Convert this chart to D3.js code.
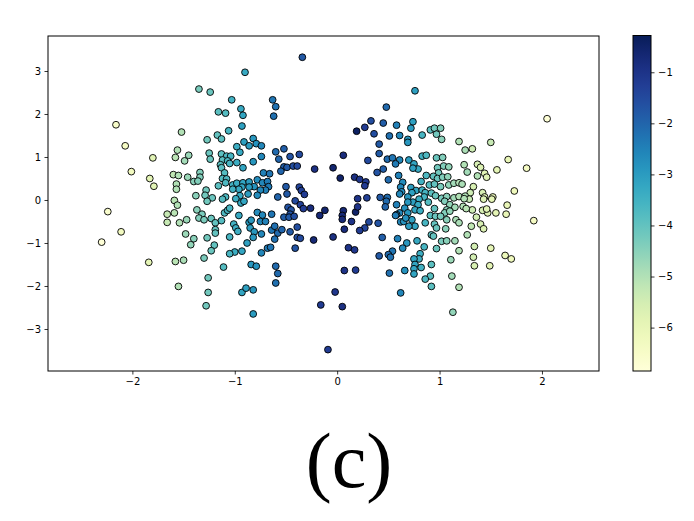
<!DOCTYPE html>
<html>
<head>
<meta charset="utf-8">
<script src="https://cdn.jsdelivr.net/npm/d3@7"></script>
<style>
  body { margin: 0; background: #fff; }
  svg { display: block; }
</style>
</head>
<body>
<svg width="694" height="521"></svg>
<script>
// point positions (x, y) and colour values
const xs = [
  -2.16,-2.07,-1.80,-2.01,-1.83,-1.79,-1.52,-1.56,-1.58,-1.49,-1.45,-1.60,-1.55,-1.46,-1.57,-1.57,-1.59,
  -2.24,-2.11,-2.30,-1.84,-1.58,-1.50,-1.55,-1.56,-1.66,-1.59,-1.66,-1.54,-1.47,-1.48,-1.43,
  -0.90,-1.35,-1.24,-1.03,-0.63,-0.60,-0.94,-0.92,-0.62,-1.16,-1.09,-0.93,-1.06,-1.27,-1.17,-1.13,-0.91,-0.82,
  -0.86,-0.79,-0.74,-0.98,-0.60,-0.57,-0.74,-0.82,-0.95,-1.25,-1.13,-1.08,-1.04,-1.24,-1.12,-1.07,-1.14,-1.05,
  -0.98,-1.13,-0.92,-0.72,-0.66,-1.10,-1.12,-1.08,-1.34,-1.34,-1.40,-1.36,-1.16,-1.09,-1.02,-0.98,-0.92,-0.86,
  -0.78,-0.73,-0.68,-0.67,-0.70,-0.75,-0.81,-0.86,-0.93,-0.96,-1.02,-1.28,-1.29,-1.38,-1.09,-0.95,-0.87,-0.78,
  -0.58,-1.22,-0.99,
  -1.27,-1.12,-0.94,-0.91,-1.37,-1.32,-1.35,-1.30,-1.23,-1.19,-1.13,-1.10,-1.07,-1.05,-0.96,-1.19,-1.19,-1.40,
  -1.27,-1.20,-1.23,-1.30,-1.05,-1.01,-0.99,-0.97,-0.78,-0.73,-0.64,-0.75,-0.70,-0.86,-0.84,-0.85,-0.81,-0.82,
  -0.74,-0.88,-0.93,-1.00,-1.05,-0.64,-0.61,-0.58,-0.61,-0.74,-0.68,-0.65,-1.11,-0.84,-0.79,-0.60,-0.58,-0.60,
  -1.26,-1.26,-1.28,-0.93,-0.89,-0.82,-0.82,
  -0.34,0.19,0.27,0.33,-0.52,-0.46,-0.37,0.06,0.30,-0.52,-0.49,-0.43,-0.39,-0.55,-0.22,-0.04,0.03,0.17,0.22,
  0.28,0.27,-0.50,-0.49,-0.37,-0.35,-0.32,-0.41,0.20,0.29,
  -0.36,-0.33,-0.26,-0.48,-0.45,-0.46,-0.52,-0.47,-0.42,-0.17,-0.12,0.06,0.05,0.05,0.18,0.20,0.14,0.31,0.27,
  0.22,0.07,-0.54,-0.46,-0.39,-0.39,-0.36,-0.23,-0.04,-0.41,0.11,0.17,0.07,0.18,-0.02,-0.16,0.05,-0.09,
  0.76,0.48,0.45,0.58,0.74,0.72,0.91,0.95,1.01,0.97,1.02,1.19,0.83,0.36,0.51,0.61,0.69,0.69,0.41,0.41,
  0.49,0.54,0.61,0.57,0.70,0.75,0.83,0.87,0.97,1.03,0.79,0.74,0.45,0.39,0.98,1.04,1.09,0.99,0.60,0.50,
  0.87,0.94,0.98,1.03,1.08,0.82,0.90,0.95,1.01,1.09,1.14,1.19,0.64,0.62,0.63,0.61,0.72,0.77,0.83,0.73,
  0.86,0.92,0.96,0.85,0.69,0.80,0.42,0.49,1.02,1.07,1.14,1.19,
  2.05,1.50,1.25,1.32,1.67,1.85,1.24,1.27,1.37,1.40,1.37,1.44,1.46,1.56,1.73,1.22,1.33,1.30,1.25,1.29,
  1.42,1.44,1.52,
  0.48,0.58,0.61,0.58,0.66,0.69,0.74,0.79,0.76,0.81,0.89,0.95,1.05,1.10,1.15,1.07,1.05,1.10,0.91,0.96,
  1.01,1.07,1.16,0.86,0.95,0.97,1.06,0.92,0.94,1.02,1.07,1.15,1.19,0.97,0.85,1.11,1.12,1.19,1.13,0.92,
  0.91,0.92,0.86,0.81,0.80,0.75,0.76,0.82,0.75,0.75,0.66,0.68,0.64,0.78,0.59,0.44,0.54,0.50,0.52,0.41,
  0.51,0.62,0.40,0.62,0.65,0.73,0.76,0.70,0.67,0.57,0.47,0.69,
  1.92,1.66,1.65,1.55,1.47,1.42,1.46,1.32,1.24,1.43,1.51,1.23,1.26,1.19,1.36,1.40,1.43,1.31,1.27,1.34,
  1.50,1.33,1.34,1.49,1.64,1.70
];
const ys = [
  1.75,1.26,0.98,0.66,0.50,0.32,1.58,1.16,0.99,0.91,1.04,0.59,0.57,0.53,0.37,0.25,-0.01,
  -0.27,-0.74,-0.98,-1.45,-1.43,-1.40,-2.01,-0.12,-0.33,-0.30,-0.52,-0.53,-0.46,-0.79,-1.04,
  2.97,2.58,2.51,2.33,2.33,2.17,2.12,1.97,1.95,2.05,2.02,1.72,1.61,1.40,1.51,1.42,1.35,1.43,
  1.26,1.31,1.26,1.24,1.12,0.95,1.01,0.89,1.11,1.09,1.07,1.02,1.02,0.95,0.93,0.91,0.82,0.85,
  0.87,0.75,0.75,0.63,0.61,0.63,0.50,0.49,0.64,0.53,0.43,0.44,0.33,0.40,0.35,0.39,0.40,0.42,
  0.47,0.40,0.43,0.31,0.23,0.23,0.31,0.30,0.30,0.25,0.25,0.23,0.11,0.10,0.07,0.10,0.14,0.11,
  0.07,0.05,0.03,
  -0.03,0.02,-0.07,-0.03,-0.23,-0.33,-0.42,-0.46,-0.43,-0.53,-0.48,-0.30,-0.24,-0.19,-0.36,-0.69,-0.77,-0.90,
  -0.88,-1.05,-1.18,-1.35,-0.86,-0.56,-0.65,-0.73,-0.29,-0.35,-0.33,-0.50,-0.50,-0.52,-0.47,-0.65,-0.74,-0.87,
  -0.79,-1.00,-1.19,-1.21,-1.25,-0.70,-0.61,-0.77,-0.91,-1.23,-1.12,-1.10,-1.56,-1.50,-1.54,-1.54,-1.71,-1.93,
  -1.81,-2.15,-2.46,-2.15,-2.05,-2.09,-2.65,
  3.32,1.60,1.69,1.84,1.19,1.01,1.06,1.04,0.92,0.77,0.76,0.79,0.79,0.67,0.72,0.75,0.51,0.53,0.48,
  0.42,0.33,0.31,0.14,0.30,0.22,0.13,-0.02,0.03,0.05,
  -0.11,-0.20,-0.19,-0.17,-0.23,-0.33,-0.40,-0.40,-0.38,-0.36,-0.24,-0.25,-0.36,-0.45,-0.28,-0.16,-0.50,-0.51,-0.65,
  -0.71,-0.68,-0.69,-0.74,-0.63,-0.87,-0.89,-0.93,-0.86,-1.12,-1.11,-1.16,-1.64,-1.63,-2.14,-2.44,-2.48,-3.48,
  2.54,2.16,1.79,1.74,1.82,1.67,1.63,1.67,1.67,1.53,1.41,1.36,1.51,1.54,1.49,1.50,1.41,1.34,1.30,1.08,
  0.95,0.98,0.93,0.84,0.93,0.84,1.02,1.04,0.98,0.99,0.72,0.74,0.72,0.64,0.75,0.79,0.77,0.63,0.57,0.47,
  0.57,0.55,0.50,0.53,0.54,0.43,0.35,0.37,0.31,0.35,0.39,0.40,0.41,0.30,0.19,0.14,0.29,0.22,0.23,0.17,
  0.17,0.16,0.10,0.07,0.07,0.02,0.06,0.06,0.04,0.08,0.05,0.08,
  1.89,1.34,1.16,1.19,0.94,0.74,0.82,0.65,0.83,0.76,0.56,0.62,0.53,0.70,0.21,0.37,0.31,0.17,0.09,0.02,
  0.17,0.07,0.07,
  -0.03,-0.11,-0.30,-0.34,-0.19,-0.30,-0.05,-0.11,-0.23,-0.25,-0.05,-0.20,-0.03,-0.11,-0.17,-0.23,-0.30,-0.26,-0.36,-0.38,
  -0.38,-0.46,-0.46,-0.53,-0.56,-0.65,-0.67,-0.81,-0.84,-0.96,-0.95,-0.95,-1.18,-1.13,-1.09,-1.39,-1.77,-2.03,-2.61,-1.50,
  -1.77,-2.01,-1.84,-1.25,-1.37,-1.37,-1.50,-1.57,-1.60,-1.72,-1.64,-1.00,-1.12,-0.95,-0.90,-0.87,-1.19,-1.27,-1.33,-1.30,
  -1.70,-2.16,-0.54,-0.51,-0.50,-0.46,-0.61,-0.61,-0.42,-0.36,-0.16,-0.05,
  -0.48,-0.12,-0.33,-0.30,-0.30,-0.24,-0.21,-0.23,0.03,0.02,0.02,-0.15,-0.20,-0.53,-0.40,-0.56,-0.67,-0.61,-0.81,-1.08,
  -1.12,-1.33,-1.53,-1.53,-1.29,-1.37
];
const cs = [
  -6.5,-6.4,-5.8,-6.3,-5.9,-5.8,-5.0,-5.0,-5.1,-4.8,-4.7,-5.2,-5.0,-4.7,-5.0,-5.0,-5.1,
  -6.6,-6.3,-6.8,-5.9,-5.1,-4.9,-5.0,-5.0,-5.3,-5.1,-5.3,-5.0,-4.7,-4.7,-4.6,
  -3.3,-4.3,-4.1,-3.5,-2.3,-2.2,-3.3,-3.2,-2.2,-3.9,-3.8,-3.1,-3.6,-4.2,-4.0,-3.9,-3.1,-2.9,
  -3.0,-2.8,-2.6,-3.4,-2.1,-2.0,-2.6,-2.9,-3.3,-4.1,-3.9,-3.7,-3.6,-4.1,-3.9,-3.7,-3.9,-3.6,
  -3.4,-3.9,-3.2,-2.5,-2.3,-3.8,-3.8,-3.7,-4.4,-4.4,-4.5,-4.4,-3.9,-3.7,-3.5,-3.4,-3.2,-3.0,
  -2.7,-2.6,-2.4,-2.4,-2.5,-2.6,-2.8,-3.0,-3.2,-3.3,-3.5,-4.2,-4.2,-4.5,-3.7,-3.3,-3.0,-2.7,
  -2.0,-4.1,-3.4,
  -4.2,-3.8,-3.3,-3.2,-4.5,-4.3,-4.4,-4.3,-4.1,-4.0,-3.8,-3.7,-3.6,-3.6,-3.3,-4.0,-4.0,-4.5,
  -4.2,-4.0,-4.1,-4.3,-3.6,-3.5,-3.4,-3.4,-2.7,-2.6,-2.3,-2.6,-2.5,-3.0,-2.9,-3.0,-2.9,-2.9,
  -2.6,-3.1,-3.2,-3.4,-3.6,-2.3,-2.2,-2.1,-2.2,-2.6,-2.4,-2.3,-3.8,-2.9,-2.8,-2.1,-2.1,-2.2,
  -4.2,-4.2,-4.2,-3.2,-3.1,-2.9,-3.0,
  -1.8,-0.4,-1.2,-1.6,-1.9,-1.7,-1.5,-0.8,-1.5,-1.9,-1.8,-1.6,-1.5,-2.0,-0.9,-0.6,-0.5,-0.9,-1.1,
  -1.2,-1.2,-1.8,-1.8,-1.4,-1.3,-1.2,-1.5,-1.0,-1.3,
  -1.3,-1.2,-0.8,-1.7,-1.7,-1.7,-1.9,-1.8,-1.6,-0.7,-0.6,-0.7,-0.7,-0.7,-0.5,-1.0,-1.0,-1.5,-1.4,
  -1.2,-0.8,-2.0,-1.8,-1.6,-1.6,-1.5,-0.7,-0.9,-1.7,-1.0,-1.1,-1.0,-1.2,-1.1,-1.2,-0.9,-1.2,
  -3.1,-2.1,-1.9,-2.5,-3.1,-3.0,-3.9,-4.2,-4.4,-4.2,-4.5,-5.0,-3.6,-1.6,-2.2,-2.6,-2.9,-2.9,-1.8,-1.8,
  -2.1,-2.3,-2.6,-2.4,-3.0,-3.2,-3.5,-3.7,-4.1,-4.4,-3.3,-3.1,-1.9,-1.7,-4.2,-4.4,-4.6,-4.2,-2.5,-2.1,
  -3.7,-4.0,-4.1,-4.4,-4.6,-3.5,-3.8,-4.0,-4.3,-4.6,-4.8,-5.0,-2.7,-2.6,-2.7,-2.6,-3.0,-3.2,-3.5,-3.1,
  -3.6,-3.9,-4.1,-3.6,-2.9,-3.4,-1.8,-2.1,-4.3,-4.5,-4.8,-5.0,
  -6.8,-5.3,-4.9,-5.4,-6.0,-6.4,-5.0,-4.8,-5.6,-5.7,-5.0,-5.8,-5.8,-5.9,-6.2,-4.9,-5.6,-5.4,-5.0,-5.3,
  -5.6,-5.8,-6.0,
  -2.1,-2.5,-2.6,-2.5,-2.8,-2.9,-3.1,-3.3,-3.2,-3.4,-3.8,-4.0,-4.4,-4.6,-4.8,-4.5,-4.4,-4.6,-3.9,-4.1,
  -4.3,-4.5,-4.9,-3.6,-4.0,-4.1,-4.5,-3.9,-4.0,-4.3,-4.5,-4.8,-5.0,-4.1,-3.6,-4.7,-4.8,-5.0,-4.6,-3.9,
  -3.9,-3.9,-3.7,-3.4,-3.4,-3.2,-3.2,-3.5,-3.2,-3.2,-2.8,-2.9,-2.7,-3.3,-2.5,-1.9,-2.3,-2.1,-2.2,-1.8,
  -2.2,-2.6,-1.7,-2.6,-2.8,-3.1,-3.2,-3.0,-2.8,-2.4,-2.0,-2.9,
  -6.4,-6.0,-6.0,-5.9,-5.8,-5.6,-5.8,-5.4,-5.0,-5.7,-5.9,-5.0,-5.1,-4.9,-5.5,-5.6,-5.7,-5.2,-5.0,-5.5,
  -5.9,-5.5,-5.6,-5.9,-6.1,-6.2
];
const xTicks = [-2, -1, 0, 1, 2];
const yTicks = [-3, -2, -1, 0, 1, 2, 3];
const cTicks = [-6, -5, -4, -3, -2, -1];
const colorRange = [-6.85, -0.28];

const points = xs.map((x, i) => ({ x: x, y: ys[i], c: cs[i] }));

const svg = d3.select('svg');
const plot = { left: 48, right: 599, top: 36, bottom: 371 };
const fmt = d => String(d).replace('-', '\u2212');

const xScale = d3.scaleLinear()
    .domain([-2.824, 2.557])
    .range([plot.left, plot.right]);
const yScale = d3.scaleLinear()
    .domain([-3.977, 3.814])
    .range([plot.bottom, plot.top]);
const colorScale = d3.scaleSequential(d3.interpolateYlGnBu)
    .domain(colorRange);

// points
svg.append('g')
    .selectAll('circle')
    .data(points)
    .join('circle')
    .attr('cx', d => xScale(d.x))
    .attr('cy', d => yScale(d.y))
    .attr('r', 3.4)
    .attr('fill', d => colorScale(d.c))
    .attr('stroke', '#000')
    .attr('stroke-width', 0.9);

// frame
svg.append('rect')
    .attr('x', plot.left)
    .attr('y', plot.top)
    .attr('width', plot.right - plot.left)
    .attr('height', plot.bottom - plot.top)
    .attr('fill', 'none')
    .attr('stroke', '#000')
    .attr('stroke-width', 1);

// axes
const xAxis = d3.axisBottom(xScale).tickValues(xTicks).tickSize(3.5).tickPadding(3.5).tickFormat(fmt);
const yAxis = d3.axisLeft(yScale).tickValues(yTicks).tickSize(3.5).tickPadding(3.5).tickFormat(fmt);
const gx = svg.append('g')
    .attr('transform', `translate(0, ${plot.bottom})`)
    .call(xAxis);
const gy = svg.append('g')
    .attr('transform', `translate(${plot.left}, 0)`)
    .call(yAxis);
[gx, gy].forEach(g => {
    g.select('.domain').remove();
    g.selectAll('text').style('font-family', 'DejaVu Sans').style('font-size', '10px').attr('fill', '#000');
    g.selectAll('line').attr('stroke', '#000').attr('stroke-width', 0.8);
});

// colorbar
const cb = { x: 633, w: 18, top: 35.5, bottom: 371 };
const cScale = d3.scaleLinear().domain(colorRange).range([cb.bottom, cb.top]);
const defs = svg.append('defs');
const grad = defs.append('linearGradient')
    .attr('id', 'cbar')
    .attr('x1', 0).attr('y1', 1).attr('x2', 0).attr('y2', 0);
d3.range(0, 1.0001, 0.05).forEach(t => {
    grad.append('stop')
        .attr('offset', t)
        .attr('stop-color', d3.interpolateYlGnBu(t));
});
svg.append('rect')
    .attr('x', cb.x)
    .attr('y', cb.top)
    .attr('width', cb.w)
    .attr('height', cb.bottom - cb.top)
    .attr('fill', 'url(#cbar)')
    .attr('stroke', '#000')
    .attr('stroke-width', 1);
const cAxis = d3.axisRight(cScale).tickValues(cTicks).tickSize(3.5).tickPadding(3.5).tickFormat(fmt);
const gc = svg.append('g')
    .attr('transform', `translate(${cb.x + cb.w}, 0)`)
    .call(cAxis);
gc.select('.domain').remove();
gc.selectAll('text').style('font-family', 'DejaVu Sans').style('font-size', '10px').attr('fill', '#000');
gc.selectAll('line').attr('stroke', '#000').attr('stroke-width', 0.8);

// panel label
svg.append('text')
    .text('(c)')
    .attr('x', 349)
    .attr('y', 487)
    .attr('text-anchor', 'middle')
    .style('font-family', 'Liberation Serif')
    .style('font-size', '78px')
    .attr('fill', '#000');
</script>
</body>
</html>
